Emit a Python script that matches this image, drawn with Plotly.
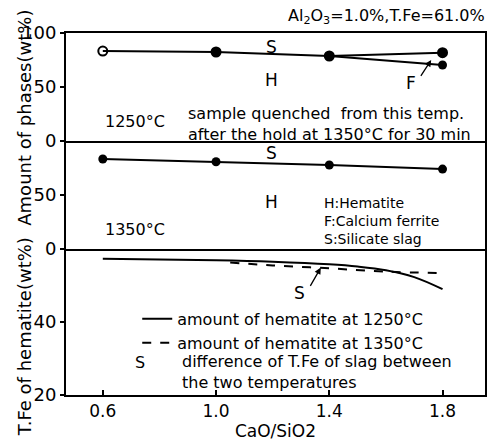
import plotly.graph_objects as go
from plotly.subplots import make_subplots

# CaO/SiO2 basicity of the samples
cao_sio2 = [0.6, 1.0, 1.4, 1.8]

# Phase boundaries (wt%) of samples quenched from 1250 C
slag_boundary_1250 = [83.3, 82.4, 78.7, 81.8]
ferrite_x_1250 = [1.4, 1.8]
ferrite_boundary_1250 = [78.7, 70.4]
marker_1250 = ["circle-open", "circle", "circle", "circle"]

# Phase boundary (wt%) of samples quenched from 1350 C
slag_boundary_1350 = [83.3, 80.8, 77.8, 74.0]

# T.Fe of hematite (wt%)
hem_x_1250 = [0.6, 1.0, 1.2, 1.4, 1.5, 1.6, 1.7, 1.8]
hem_1250 = [57.3, 56.9, 56.5, 55.8, 55.2, 54.2, 52.3, 49.0]
hem_x_1350 = [1.05, 1.2, 1.4, 1.6, 1.8]
hem_1350 = [56.3, 55.5, 54.7, 53.8, 53.4]

x_ticks = [0.6, 1.0, 1.4, 1.8]
x_tick_text = ["0.6", "1.0", "1.4", "1.8"]

FONT = "DejaVu Sans"
INK = "black"

fig = make_subplots(rows=3, cols=1, shared_xaxes=True, vertical_spacing=0,
                    row_heights=[108, 108, 146])

fig.add_trace(go.Scatter(x=cao_sio2, y=slag_boundary_1250, mode="lines+markers",
                         line=dict(color=INK, width=2),
                         marker=dict(symbol=marker_1250, size=9, color=INK,
                                     line=dict(color=INK, width=2)),
                         showlegend=False), row=1, col=1)
fig.add_trace(go.Scatter(x=ferrite_x_1250, y=ferrite_boundary_1250, mode="lines+markers",
                         line=dict(color=INK, width=2),
                         marker=dict(symbol="circle", size=9, color=INK),
                         showlegend=False), row=1, col=1)
fig.add_trace(go.Scatter(x=cao_sio2, y=slag_boundary_1350, mode="lines+markers",
                         line=dict(color=INK, width=2),
                         marker=dict(symbol="circle", size=9, color=INK),
                         showlegend=False), row=2, col=1)
fig.add_trace(go.Scatter(x=hem_x_1250, y=hem_1250, mode="lines",
                         line=dict(color=INK, width=2, shape="spline"),
                         name="amount of hematite at 1250°C"), row=3, col=1)
fig.add_trace(go.Scatter(x=hem_x_1350, y=hem_1350, mode="lines",
                         line=dict(color=INK, width=2, dash="dash", shape="spline"),
                         name="amount of hematite at 1350°C"), row=3, col=1)

line_style = dict(showline=True, linewidth=2, linecolor=INK, showgrid=False,
                  zeroline=False, automargin=False)
fig.update_xaxes(range=[0.47, 1.95], **line_style)
fig.update_xaxes(mirror=True, showticklabels=False, ticks="", row=1, col=1)
fig.update_xaxes(mirror=False, showticklabels=False, ticks="", row=2, col=1)
fig.update_xaxes(mirror=False, tickvals=x_ticks, ticktext=x_tick_text,
                 ticks="inside", ticklen=5, tickwidth=1.5, tickcolor=INK,
                 tickfont=dict(family=FONT, size=17, color=INK),
                 title=dict(text="CaO/SiO2", font=dict(family=FONT, size=17, color=INK),
                            standoff=4),
                 row=3, col=1)

ytick_style = dict(ticks="outside", ticklen=4, tickwidth=1.5, tickcolor=INK,
                   tickfont=dict(family=FONT, size=18, color=INK), mirror=True)
fig.update_yaxes(range=[0, 100], tickvals=[0, 50, 100], row=1, col=1,
                 **ytick_style, **line_style)
fig.update_yaxes(range=[0, 100], tickvals=[0, 50], row=2, col=1,
                 **ytick_style, **line_style)
fig.update_yaxes(range=[20, 60], tickvals=[20, 40], row=3, col=1,
                 **ytick_style, **line_style)

annotations = []


def text(x, y, s, xref, yref, size=15, xanchor="center", yanchor="middle", align="left"):
    annotations.append(dict(x=x, y=y, text=s, xref=xref, yref=yref, showarrow=False,
                            xanchor=xanchor, yanchor=yanchor, align=align,
                            font=dict(family=FONT, size=size, color=INK)))


def arrow(x, y, ax, ay, xref, yref):
    annotations.append(dict(x=x, y=y, ax=ax, ay=ay, xref=xref, yref=yref,
                            axref=xref, ayref=yref, text="", showarrow=True,
                            arrowhead=2, arrowsize=1, arrowwidth=1.3, arrowcolor=INK))


# Upper panel: 1250 C
text(1.197, 87, "S", "x", "y", size=17)
text(1.197, 56.5, "H", "x", "y", size=17)
text(1.69, 54, "F", "x", "y", size=17)
arrow(1.76, 75, 1.72, 59, "x", "y")
text(0.6, 18, "1250°C", "x", "y", size=16, xanchor="left")
text(0.895, 15.5, "sample quenched  from this temp.<br>after the hold at 1350°C for 30 min",
     "x", "y", size=16, xanchor="left")

# Middle panel: 1350 C
text(1.197, 89, "S", "x2", "y2", size=17)
text(1.197, 43.5, "H", "x2", "y2", size=17)
text(1.373, 26, "H:Hematite<br>F:Calcium ferrite<br>S:Silicate slag",
     "x2", "y2", size=14, xanchor="left")
text(0.6, 18, "1350°C", "x2", "y2", size=16, xanchor="left")

# Lower panel: T.Fe of hematite
text(1.295, 47.9, "S", "x3", "y3", size=17)
arrow(1.37, 54.9, 1.33, 49.5, "x3", "y3")
text(0.73, 28.8, "S", "x3", "y3", size=16)
text(0.872, 26.2, "difference of T.Fe of slag between<br>the two temperatures",
     "x3", "y3", size=16, xanchor="left")

# Header and axis title
text(1.005, 1.01, "Al<sub>2</sub>O<sub>3</sub>=1.0%,T.Fe=61.0%", "paper", "paper",
     size=16, xanchor="right", yanchor="bottom")
annotations.append(dict(x=-0.1, y=0.475, xref="paper", yref="paper", showarrow=False,
                        xanchor="center", yanchor="middle",
                        text="T.Fe of hematite(wt%)  Amount of phases(wt%)",
                        textangle=-90, font=dict(family=FONT, size=18, color=INK)))

fig.update_layout(
    width=495, height=441,
    margin=dict(l=66, r=10, t=33, b=46, autoexpand=False),
    paper_bgcolor="white", plot_bgcolor="white",
    annotations=annotations,
    legend=dict(x=0.17, y=0.257, xanchor="left", yanchor="top",
                bgcolor="rgba(0,0,0,0)", tracegroupgap=0,
                font=dict(family=FONT, size=16, color=INK)),
)

fig.write_html("out.html")
